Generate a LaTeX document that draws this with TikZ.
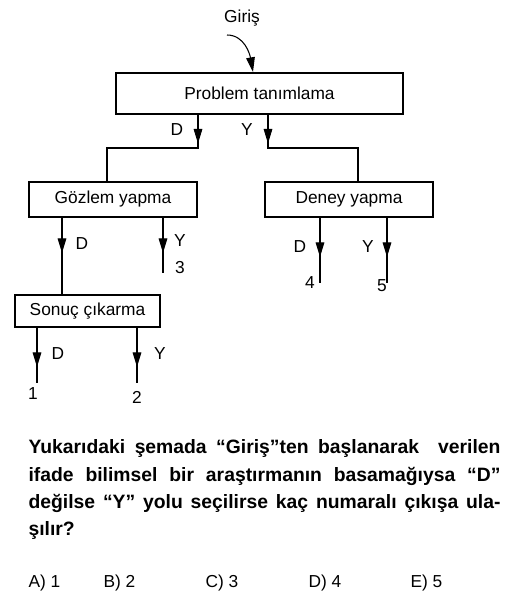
\documentclass[tikz,border=0pt]{standalone}
\usepackage{fontspec}
\setmainfont{Liberation Sans}
\usetikzlibrary{arrows.meta}

\begin{document}
\begin{tikzpicture}[x=0.75pt,y=-0.75pt,line width=0.8pt,
  >={Triangle[length=11pt,width=6.5pt]},
  kutu/.style={draw,inner sep=0pt,font=\fontsize{13}{15}\selectfont},
  yazi/.style={inner sep=0pt,font=\fontsize{13}{15}\selectfont}]
  \useasboundingbox (0,0) rectangle (511,607);
% kutular
  \node[kutu,minimum width=215.25pt,minimum height=30.75pt] (problem) at (259.5,93.5) {Problem tanımlama};
  \node[kutu,minimum width=126pt,minimum height=26.25pt] (gozlem) at (113,199.5) {Gözlem yapma};
  \node[kutu,minimum width=126pt,minimum height=26.25pt] (deney) at (349,199.5) {Deney yapma};
  \node[kutu,minimum width=108.75pt,minimum height=24pt] (sonuc) at (87.5,311) {Sonuç çıkarma};
% giris
  \node[yazi] (giris) at (242,18) {Giriş};
  \coordinate (gbas) at (227,35);
  \coordinate (gson) at (253,72);
  \draw[->] (gbas) to[out=0,in=100] (gson);
% problem tanimlama -> dallar
  \coordinate (pD) at (198,148);
  \coordinate (pY) at (268,148);
  \coordinate (gD) at (107,182);
  \coordinate (dY) at (358,182);
  \draw (problem.south -| pD) -- (pD) -| (gozlem.north -| gD);
  \draw (problem.south -| pY) -- (pY) -| (deney.north -| dY);
  \draw[->] (problem.south -| pD) -- ++(0,29);
  \draw[->] (problem.south -| pY) -- ++(0,29);
  \node[yazi] (pDy) at (177,130) {D};
  \node[yazi] (pYy) at (247,130) {Y};
% uclar
  \coordinate (g1) at (62,253);
  \coordinate (g2) at (163,253);
  \coordinate (e3) at (163,273);
  \coordinate (d1) at (320,257);
  \coordinate (e4) at (320,283);
  \coordinate (d2) at (387,257);
  \coordinate (e5) at (387,283);
  \coordinate (s1) at (37,367);
  \coordinate (e1) at (37,383);
  \coordinate (s2) at (137,367);
  \coordinate (e2) at (137,383);
  \draw (gozlem.south -| g1) -- (sonuc.north -| g1);
  \draw[->] (gozlem.south -| g1) -- (g1);
  \draw (gozlem.south -| g2) -- (e3);
  \draw[->] (gozlem.south -| g2) -- (g2);
  \draw (deney.south -| d1) -- (e4);
  \draw[->] (deney.south -| d1) -- (d1);
  \draw (deney.south -| d2) -- (e5);
  \draw[->] (deney.south -| d2) -- (d2);
  \draw (sonuc.south -| s1) -- (e1);
  \draw[->] (sonuc.south -| s1) -- (s1);
  \draw (sonuc.south -| s2) -- (e2);
  \draw[->] (sonuc.south -| s2) -- (s2);
% etiketler
  \node[yazi] (gDy) at (82,244) {D};
  \node[yazi] (gYy) at (180,241) {Y};
  \node[yazi] (n3) at (180,268) {3};
  \node[yazi] (dDy) at (300,247) {D};
  \node[yazi] (dYy) at (368,247) {Y};
  \node[yazi] (n4) at (310,283) {4};
  \node[yazi] (n5) at (382,286) {5};
  \node[yazi] (sDy) at (58,354) {D};
  \node[yazi] (sYy) at (160,354) {Y};
  \node[yazi] (n1) at (33,394) {1};
  \node[yazi] (n2) at (137,397) {2};
% soru
  \node[anchor=north west,inner sep=0pt,text width=354pt,align=justify,
    font=\bfseries\fontsize{14.5}{20.6}\selectfont] (soru) at (28,439)
    {\makebox[354pt][s]{Yukarıdaki şemada “Giriş”ten başlanarak\ \ verilen}\\
     \makebox[354pt][s]{ifade bilimsel bir araştırmanın basamağıysa “D”}\\
     \makebox[354pt][s]{değilse “Y” yolu seçilirse kaç numaralı çıkışa ula-}\\
     şılır?};
  \foreach \x/\t in {28/A) 1,103/B) 2,205/C) 3,308/D) 4,410/E) 5}
    \node[anchor=base west,inner sep=0pt,font=\fontsize{13}{15}\selectfont] (cevap\x) at (\x,587) {\t};
\end{tikzpicture}
\end{document}
